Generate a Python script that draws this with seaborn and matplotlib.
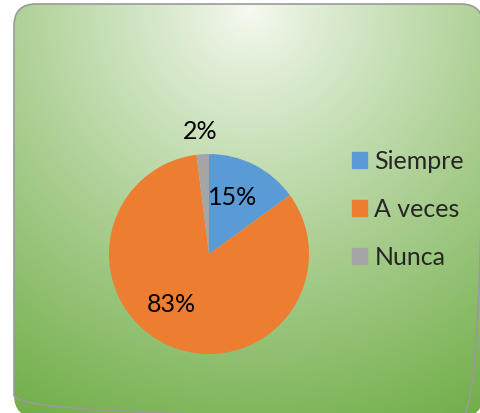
import numpy as np
import matplotlib
matplotlib.use("Agg")
import matplotlib.pyplot as plt
import matplotlib.patches as mpatches
import seaborn as sns

# data
categories = ["Siempre", "A veces", "Nunca"]
percentages = [15, 83, 2]
colours = ["#5B9BD5", "#ED7D31", "#A5A5A5"]

sns.set_theme(style="white")
plt.rcParams["font.family"] = ["Lato", "DejaVu Sans"]

W, H = 481, 413
fig = plt.figure(figsize=(W / 100, H / 100), dpi=100)
fig.patch.set_facecolor("white")

# background: rounded panel with radial green gradient
bg = fig.add_axes([0, 0, 1, 1])
bg.set_xlim(0, W)
bg.set_ylim(H, 0)
bg.axis("off")
yy, xx = np.mgrid[0:H, 0:W]
dist = np.sqrt((xx - 250) ** 2 + (yy - 10) ** 2)
t = np.clip(dist / 470, 0, 1) ** 0.9
inner = np.array([246, 250, 242]) / 255
outer = np.array([112, 173, 71]) / 255
img = inner[None, None, :] * (1 - t[..., None]) + outer[None, None, :] * t[..., None]
panel = mpatches.FancyBboxPatch(
    (14, 4), 469, 413,
    boxstyle="round,pad=0,rounding_size=22",
    facecolor="none", edgecolor="#9A9A9A", linewidth=1.2, zorder=3,
)
bg.add_patch(panel)
im = bg.imshow(img, extent=(0, W, H, 0), zorder=1)
im.set_clip_path(panel)

# pie
cx, cy, r = 209, 254, 100
ax = fig.add_axes([(cx - r) / W, (H - cy - r) / H, 2 * r / W, 2 * r / H])
ax.set_facecolor("none")
wedges, _, autotexts = ax.pie(
    percentages,
    colors=colours,
    startangle=90,
    counterclock=False,
    autopct="%1.0f%%",
    wedgeprops=dict(linewidth=0),
    textprops=dict(fontsize=18, color="black"),
)
ax.set_xlim(-1, 1)
ax.set_ylim(-1, 1)
label_pos = [(0.24, 0.57), (-0.38, -0.51), (-0.09, 1.23)]
for txt, pos in zip(autotexts, label_pos):
    txt.set_position(pos)
    txt.set_ha("center")
    txt.set_va("center")

handles = [mpatches.Patch(color=c, label=l) for c, l in zip(colours, categories)]
fig.legend(
    handles=handles,
    loc="upper left",
    bbox_to_anchor=(352 / W, 1 - 150 / H),
    frameon=False,
    fontsize=18,
    handlelength=0.6,
    handleheight=0.6,
    handletextpad=0.3,
    labelspacing=1.0,
    borderaxespad=0,
    borderpad=0,
)

fig.savefig("out.png", dpi=100)
